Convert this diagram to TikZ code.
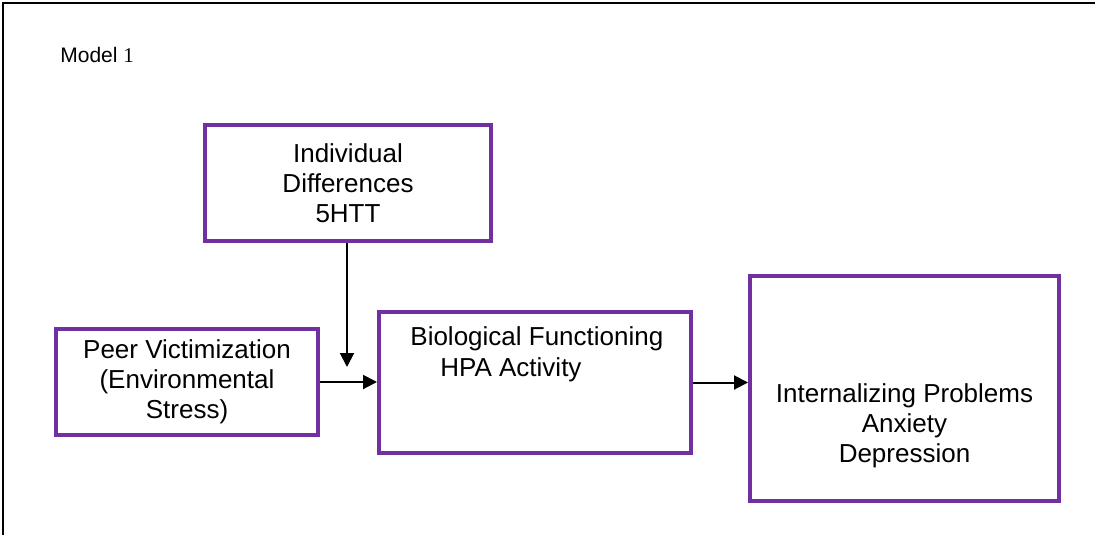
\documentclass[tikz,border=0pt]{standalone}
\usepackage{fontspec}
\setmainfont{Liberation Sans}
\newfontfamily\serifone{Liberation Serif}
\usepackage{tikz}
\usetikzlibrary{arrows.meta}
\definecolor{boxpurple}{RGB}{112,48,160}

\begin{document}
\begin{tikzpicture}[x=0.5pt,y=0.5pt]
        \tikzstyle{every node}+=[inner sep=0pt, font=\fontsize{13}{15}\selectfont]
        \tikzstyle{box}=[draw=boxpurple, line width=2pt, align=center]
        \tikzstyle{link}=[black, line width=1pt, -{Triangle[length=7pt,width=7pt]}]
        \useasboundingbox (0,0) rectangle (1095,-535);
        \draw [black, line width=1pt] (3,-535) -- (3,-3) -- (1095,-3);
        \node [anchor=base west, font=\fontsize{10.5}{12}\selectfont] (title) at (60,-62) {Model {\serifone 1}};
        \node [box, minimum width=143pt, minimum height=58pt] (indiv) at (348,-183) {Individual\\Differences\\5HTT};
        \node [box, minimum width=131pt, minimum height=53pt] (peer) at (187,-382) {Peer Victimization\\(Environmental\\Stress)};
        \node [box, minimum width=156pt, minimum height=70.5pt] (bio) at (535,-382.5) {};
        \node [anchor=base west] (biotext) at (410,-345) {Biological Functioning};
        \node [anchor=base west] (hpatext) at (440,-376) {HPA Activity};
        \node [box, minimum width=154.5pt, minimum height=112.5pt] (intern) at (904.5,-388.5) {};
        \node [align=center] (interntext) at (904.5,-426) {Internalizing Problems\\Anxiety\\Depression};
        \coordinate (join) at (347,-367);
        \draw [link] (indiv.south -| join) -- (join);
        \draw [link] (peer.east) -- (peer.east -| bio.west);
        \draw [link] (bio.east) -- (bio.east -| intern.west);
\end{tikzpicture}
\end{document}
